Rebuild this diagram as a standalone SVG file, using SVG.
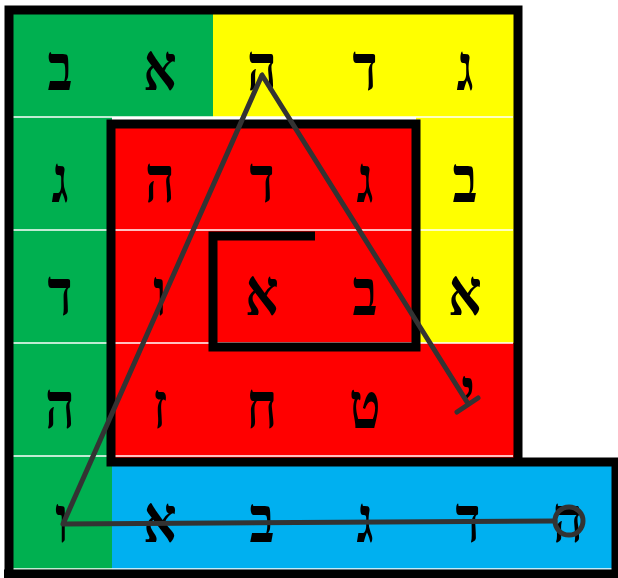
<svg xmlns="http://www.w3.org/2000/svg" width="618" height="578" viewBox="0 0 618 578">
  <style>
    .g{fill:#00B050}.y{fill:#FFFF00}.r{fill:#FF0000}.b{fill:#00B0F0}
    .sep{stroke:#FFFFFF;stroke-width:1.6}
    .wall{fill:none;stroke:#000;stroke-width:9;stroke-linejoin:miter;stroke-linecap:butt}
    .L{font-family:"Liberation Serif","DejaVu Serif",serif;font-weight:bold;font-size:52px;fill:#000;text-anchor:middle}
    .c{fill:none;stroke:#333333;stroke-width:5;stroke-linecap:round;stroke-linejoin:round}
  </style>
  <rect width="618" height="578" fill="#fff"/>
  <g id="regions">
    <rect class="g" x="9" y="10" width="204" height="107"/>
    <rect class="g" x="9" y="10" width="103" height="564"/>
    <rect class="y" x="213" y="10" width="305" height="107"/>
    <rect class="y" x="416" y="110" width="102" height="233"/>
    <rect class="r" x="111" y="124" width="305" height="338"/>
    <rect class="r" x="416" y="343" width="102" height="119"/>
    <rect class="b" x="112" y="462" width="506" height="112"/>
  </g>
  <g id="separators">
    <line class="sep" x1="13" y1="117" x2="513" y2="117"/>
    <line class="sep" x1="13" y1="230" x2="513" y2="230"/>
    <line class="sep" x1="13" y1="343" x2="513" y2="343"/>
    <line class="sep" x1="13" y1="456" x2="513" y2="456"/>
    <line class="sep" x1="13" y1="569" x2="614" y2="569"/>
  </g>
  <g id="walls">
    <path class="wall" d="M9 578 V10 H518 V466"/>
    <path class="wall" d="M4 574 H616 V462 H111 V124 H416 V347 H213 V236 H315"/>
  </g>
  <g id="row1">
    <g id="c11"><text class="L" transform="translate(60,90) scale(1,1.25)">ב</text></g>
    <g id="c12"><text class="L" transform="translate(160,90) scale(1,1.25)">א</text></g>
    <g id="c13"><text class="L" transform="translate(262,90) scale(1,1.25)">ה</text></g>
    <g id="c14"><text class="L" transform="translate(365,90) scale(1,1.25)">ד</text></g>
    <g id="c15"><text class="L" transform="translate(465,90) scale(1,1.25)">ג</text></g>
  </g>
  <g id="row2">
    <g id="c21"><text class="L" transform="translate(60,202) scale(1,1.25)">ג</text></g>
    <g id="c22"><text class="L" transform="translate(160,202) scale(1,1.25)">ה</text></g>
    <g id="c23"><text class="L" transform="translate(262,202) scale(1,1.25)">ד</text></g>
    <g id="c24"><text class="L" transform="translate(365,202) scale(1,1.25)">ג</text></g>
    <g id="c25"><text class="L" transform="translate(465,202) scale(1,1.25)">ב</text></g>
  </g>
  <g id="row3">
    <g id="c31"><text class="L" transform="translate(60,315) scale(1,1.25)">ד</text></g>
    <g id="c32"><text class="L" transform="translate(160,315) scale(1,1.25)">ו</text></g>
    <g id="c33"><text class="L" transform="translate(262,315) scale(1,1.25)">א</text></g>
    <g id="c34"><text class="L" transform="translate(365,315) scale(1,1.25)">ב</text></g>
    <g id="c35"><text class="L" transform="translate(465,315) scale(1,1.25)">א</text></g>
  </g>
  <g id="row4">
    <g id="c41"><text class="L" transform="translate(60,428) scale(1,1.25)">ה</text></g>
    <g id="c42"><text class="L" transform="translate(160,428) scale(1,1.25)">ז</text></g>
    <g id="c43"><text class="L" transform="translate(262,428) scale(1,1.25)">ח</text></g>
    <g id="c44"><text class="L" transform="translate(365,428) scale(1,1.25)">ט</text></g>
    <g id="c45"><text class="L" transform="translate(468,414) scale(1,1.25)">י</text></g>
  </g>
  <g id="row5">
    <g id="c51"><text class="L" transform="translate(62,542) scale(1,1.25)">ו</text></g>
    <g id="c52"><text class="L" transform="translate(160,542) scale(1,1.25)">א</text></g>
    <g id="c53"><text class="L" transform="translate(262,542) scale(1,1.25)">ב</text></g>
    <g id="c54"><text class="L" transform="translate(365,542) scale(1,1.25)">ג</text></g>
    <g id="c55"><text class="L" transform="translate(468,542) scale(1,1.25)">ד</text></g>
    <g id="c56"><text class="L" transform="translate(568,542) scale(1,1.25)">ה</text></g>
  </g>
  <g id="connectors">
    <polyline class="c" points="467,402 262,75 63,524 555,521"/>
    <line class="c" x1="457" y1="412" x2="478" y2="398"/>
    <circle class="c" cx="569" cy="521" r="14"/>
  </g>
</svg>
